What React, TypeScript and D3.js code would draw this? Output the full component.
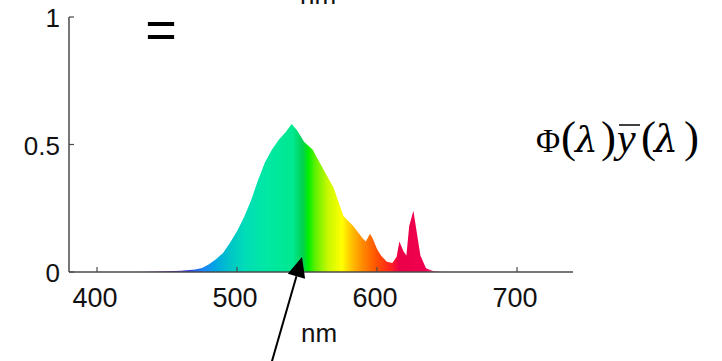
import React from "react";
import * as d3 from "d3";

const wavelengths = [430, 440, 450, 460, 470, 475, 480, 485, 490, 495, 500, 505, 510, 515, 520, 525, 530, 535, 539, 543, 548, 554, 561, 569, 576, 583, 590, 592, 595, 597, 600, 603, 607, 611, 614, 616, 619, 621, 623, 626, 628, 631, 635, 640, 645, 650];
const values = [0, 0.002, 0.003, 0.005, 0.01, 0.016, 0.03, 0.05, 0.075, 0.115, 0.16, 0.215, 0.28, 0.36, 0.43, 0.48, 0.52, 0.55, 0.58, 0.555, 0.51, 0.48, 0.41, 0.33, 0.22, 0.18, 0.13, 0.12, 0.15, 0.13, 0.09, 0.064, 0.04, 0.035, 0.06, 0.12, 0.08, 0.065, 0.18, 0.24, 0.17, 0.065, 0.015, 0.004, 0.001, 0];

const xTicks = [400, 500, 600, 700];
const yTicks = [0, 0.5, 1];
const yTickLabels = ["0", "0.5", "1"];

const colorStopWl = [430, 450, 465, 475, 485, 495, 505, 520, 540, 547, 551, 556, 565, 575, 582, 590, 600, 610, 616, 635, 645, 655];
const colorStopColors = ["#c890f0", "#6010d0", "#3040e0", "#2080f8", "#00a8e0", "#00c4c8", "#00dcb8", "#00e8a4", "#00e890", "#00d050", "#00f000", "#60f000", "#c8f800", "#ffff00", "#ffc000", "#ff8800", "#ff5000", "#ff2020", "#ea0048", "#f00050", "#ff70c0", "#ffd0f0"];

export default function App() {
  const W = 722, H = 361;
  const x = d3.scaleLinear().domain([380, 740]).range([69, 573]);
  const y = d3.scaleLinear().domain([0, 1]).range([272, 17]);
  const pts = wavelengths.map((w, i) => [w, values[i]] as [number, number]);
  const area = d3.area<[number, number]>()
    .x(d => x(d[0]))
    .y0(y(0))
    .y1(d => y(d[1]))
    .curve(d3.curveLinear);
  const x0 = x(380), x1 = x(740);
  const sans = "'Liberation Sans', Arial, sans-serif";
  const serif = "'Liberation Serif', 'Times New Roman', serif";
  const greek = "'DejaVu Serif', serif";
  const axisColor = "#4a4a4a";
  // arrow
  const ax0 = 270, ay0 = 368, ax1 = 302, ay1 = 257;
  const ang = Math.atan2(ay1 - ay0, ax1 - ax0);
  const hl = 20, hw = 9;
  const bx = ax1 - hl * Math.cos(ang), by = ay1 - hl * Math.sin(ang);
  const px = -Math.sin(ang) * hw, py = Math.cos(ang) * hw;
  return (
    <svg width={W} height={H} style={{ position: "absolute", left: 0, top: 0, background: "#fff" }}>
      <defs>
        <linearGradient id="spec" gradientUnits="userSpaceOnUse" x1={x0} y1={0} x2={x1} y2={0}>
          {colorStopWl.map((w, i) => (
            <stop key={i} offset={(x(w) - x0) / (x1 - x0)} stopColor={colorStopColors[i]} />
          ))}
        </linearGradient>
      </defs>
      <path d={area(pts) || ""} fill="url(#spec)" />
      {/* axes */}
      <line x1={x(380)} x2={x(740)} y1={y(0)} y2={y(0)} stroke={axisColor} strokeWidth={1.5} />
      <line x1={x(380)} x2={x(380)} y1={y(0)} y2={y(1)} stroke={axisColor} strokeWidth={1.5} />
      {xTicks.map(t => (
        <g key={t}>
          <line x1={x(t)} x2={x(t)} y1={y(0)} y2={y(0) - 5} stroke={axisColor} strokeWidth={1.2} />
          <text x={x(t) - 2} y={307} textAnchor="middle" fontFamily={sans} fontSize={27} fill="#111">{t}</text>
        </g>
      ))}
      {yTicks.map((t, i) => (
        <g key={t}>
          <line x1={x(380)} x2={x(380) + 5} y1={y(t)} y2={y(t)} stroke={axisColor} strokeWidth={1.2} />
          <text x={60} y={y(t) + 10} textAnchor="end" fontFamily={sans} fontSize={26} fill="#111">{yTickLabels[i]}</text>
        </g>
      ))}
      <text x={319} y={342} textAnchor="middle" fontFamily={sans} fontSize={26} fill="#111">nm</text>
      <text x={318} y={4} textAnchor="middle" fontFamily={sans} fontSize={26} fill="#111">nm</text>
      <text x={161} y={48} textAnchor="middle" fontFamily={sans} fontSize={54} fill="#000">=</text>
      {/* formula */}
      <text fontFamily={serif} fill="#000" y={152}>
        <tspan x={536} fontSize={33}>Φ</tspan>
        <tspan x={561} fontSize={45}>(</tspan>
        <tspan x={575} fontSize={36} fontFamily={greek} fontStyle="italic">λ</tspan>
        <tspan x={601} fontSize={45}>)</tspan>
        <tspan x={617} fontSize={42} fontStyle="italic">y</tspan>
        <tspan x={641} fontSize={45}>(</tspan>
        <tspan x={654} fontSize={38} fontFamily={greek} fontStyle="italic">λ</tspan>
        <tspan x={684} fontSize={45}>)</tspan>
      </text>
      <line x1={619} x2={640} y1={125} y2={125} stroke="#000" strokeWidth={1.5} />
      {/* arrow */}
      <line x1={ax0} y1={ay0} x2={bx} y2={by} stroke="#000" strokeWidth={2} />
      <polygon points={`${ax1},${ay1} ${bx + px},${by + py} ${bx - px},${by - py}`} fill="#000" />
    </svg>
  );
}
